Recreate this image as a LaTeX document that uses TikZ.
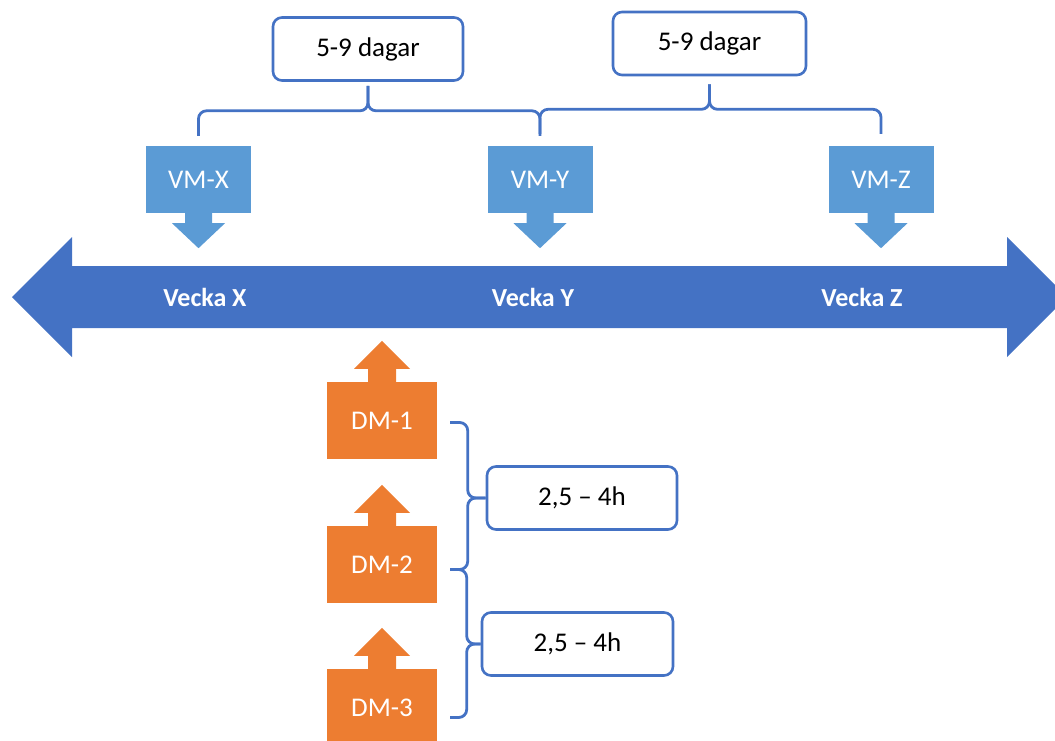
\documentclass[tikz,border=0pt]{standalone}
\usepackage{fontspec}
\setmainfont{Carlito}
\usetikzlibrary{calc}
\definecolor{weekblue}{HTML}{4472C4}
\definecolor{vmblue}{HTML}{5B9BD5}
\definecolor{dmorange}{HTML}{ED7D31}
\tikzset{
	daybox/.style={draw=weekblue, line width=2.6pt, rounded corners=9pt, fill=white,
		font=\fontsize{27}{30}\selectfont, minimum width=190pt, minimum height=63pt, inner sep=0pt}
}
\tikzset{
	vmbox/.style={fill=vmblue, text=white, font=\fontsize{27}{30}\selectfont,
		minimum width=105pt, minimum height=67pt, inner sep=0pt}
}
\tikzset{
	dmbox/.style={fill=dmorange, text=white, font=\fontsize{27}{30}\selectfont,
		minimum width=110pt, minimum height=77pt, inner sep=0pt}
}
\tikzset{
	weektext/.style={text=white, font=\fontsize{26}{30}\selectfont\bfseries}
}
\tikzset{
	brace/.style={draw=weekblue, line width=2.8pt, rounded corners=8pt}
}
% arrow part of the callouts
\newcommand{\vmtip}[1]{\fill[vmblue] ($(#1.south)+(-13.5,-1)$) -- ++(0,11) -- ++(-13,0)
	-- ($(#1.south)+(0,35)$) -- ($(#1.south)+(26.5,10)$) -- ++(-13,0) -- ++(0,-11) -- cycle;}
\newcommand{\dmtip}[1]{\fill[dmorange] ($(#1.north)+(-14,1)$) -- ++(0,-14) -- ++(-14,0)
	-- ($(#1.north)+(0,-41)$) -- ($(#1.north)+(28,-13)$) -- ++(-14,0) -- ++(0,14) -- cycle;}

\begin{document}
\begin{tikzpicture}[x=1pt, y=-1pt]
	\useasboundingbox (0,0) rectangle (1055,740);
	% timeline
	\fill[weekblue] (12,297) -- (72,237) -- (72,266) -- (1007,266) -- (1007,237) -- (1067,297)
		-- (1007,357) -- (1007,328) -- (72,328) -- (72,357) -- cycle;
	\node[weektext] (wx) at (205,297) {Vecka X};
	\node[weektext] (wy) at (533,297) {Vecka Y};
	\node[weektext] (wz) at (862,297) {Vecka Z};
	% VM
	\node[vmbox] (vmx) at (198.5,179.5) {VM-X};
	\node[vmbox] (vmy) at (540,179.5) {VM-Y};
	\node[vmbox] (vmz) at (881,179.5) {VM-Z};
	\vmtip{vmx}
	\vmtip{vmy}
	\vmtip{vmz}
	\node[daybox] (dag1) at (368,49) {5-9 dagar};
	\node[daybox, minimum width=193pt] (dag2) at (709.5,43.5) {5-9 dagar};
	\draw[brace] ($(vmx.north)+(0,-10)$) |- ($(dag1.south)+(0,29)$) -- ($(dag1.south)+(0,4)$);
	\draw[brace] ($(dag1.south)+(0,4)$) -- ($(dag1.south)+(0,29)$) -| ($(vmy.north)+(0,-10)$);
	\draw[brace] ($(vmy.north)+(0,-12)$) |- ($(dag2.south)+(0,33)$) -- ($(dag2.south)+(0,8)$);
	\draw[brace] ($(dag2.south)+(0,8)$) -- ($(dag2.south)+(0,33)$) -| ($(vmz.north)+(0,-12)$);
	% DM
	\node[dmbox] (dm1) at (382,420.5) {DM-1};
	\node[dmbox] (dm2) at (382,564.5) {DM-2};
	\node[dmbox] (dm3) at (382,707.5) {DM-3};
	\dmtip{dm1}
	\dmtip{dm2}
	\dmtip{dm3}
	\node[daybox] (t1) at (582,498) {2,5 – 4h};
	\node[daybox, minimum width=191pt] (t2) at (577.5,644) {2,5 – 4h};
	\coordinate (b1) at ($(dm1.east)+(13,2)$);
	\coordinate (b2) at ($(dm2.east)+(13,5)$);
	\coordinate (b3) at ($(dm3.east)+(13,10)$);
	\draw[brace] (b1) -| ($(t1.west)+(-18,0)$) -- (t1.west);
	\draw[brace] (t1.west) -- ++(-18,0) |- (b2);
	\draw[brace] (b2) -| ($(t2.west)+(-14,0)$) -- (t2.west);
	\draw[brace] (t2.west) -- ++(-14,0) |- (b3);
\end{tikzpicture}
\end{document}
